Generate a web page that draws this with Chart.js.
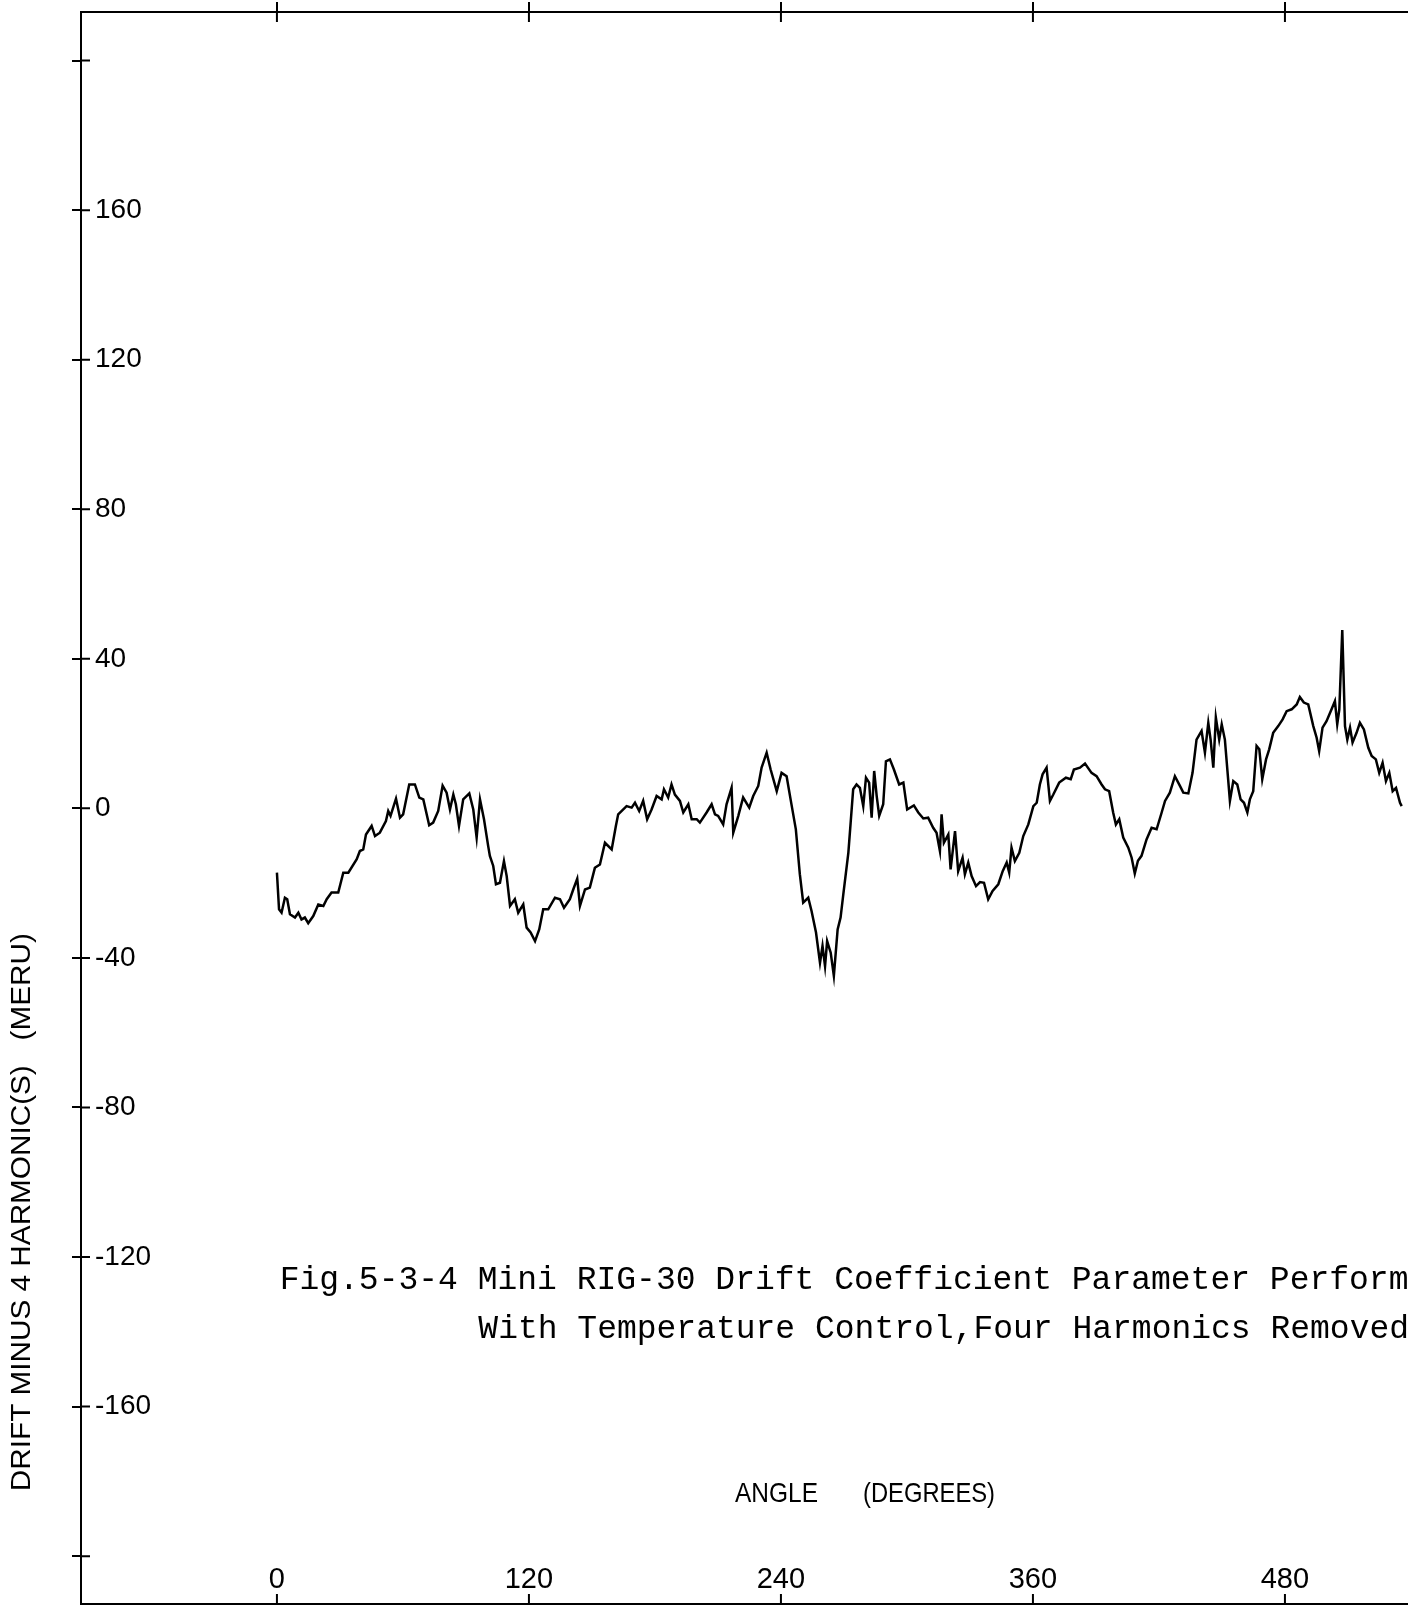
<!DOCTYPE html>
<html>
<head>
<meta charset="utf-8">
<script src="https://cdn.jsdelivr.net/npm/chart.js@4.4.1/dist/chart.umd.min.js"></script>
<style>
  html, body { margin: 0; padding: 0; background: #fff; }
  canvas { display: block; }
</style>
</head>
<body>
<canvas id="myChart" width="1408" height="1607"></canvas>
<script>
// drift minus 4 harmonics
const angles = [
  0, 1.0, 2.2, 3.8, 4.9, 6.2, 8.6, 10.2, 11.7, 13.3, 14.9, 17.3, 19.7, 22.1, 23.7, 26.0, 29.2,
  31.6, 34.0, 38.0, 39.5, 41.1, 42.4, 45.1, 46.7, 49.0, 51.9, 53.0, 54.1, 56.7, 58.6, 60.1,
  63.0, 65.7, 67.8, 69.7, 72.5, 74.4, 76.8, 78.9, 80.8, 82.4, 84.0, 85.2, 86.7, 88.7, 91.6,
  93.5, 95.1, 96.7, 98.6, 100.6, 101.4, 103.0, 104.3, 106.2, 108.1, 109.4, 111.0, 113.3,
  114.9, 117.3, 118.9, 120.8, 122.9, 124.9, 126.8, 129.2, 132.4, 134.8, 136.7, 139.5, 141.1,
  143.0, 144.3, 146.7, 149.0, 151.4, 153.8, 156.2, 159.4, 161.4, 162.5, 166.5, 168.9, 170.5,
  172.5, 174.4, 176.3, 178.4, 180.8, 183.2, 184.3, 186.3, 187.9, 189.5, 191.9, 193.5, 195.9,
  197.5, 199.9, 201.4, 204.6, 207.0, 208.6, 210.1, 212.5, 214.1, 216.5, 217.3, 219.7, 222.0,
  224.9, 226.8, 229.2, 230.8, 233.2, 235.1, 238.0, 240.3, 242.7, 244.6, 247.1, 249.0, 250.6,
  253.0, 254.6, 256.7, 258.6, 259.8, 261.0, 262.0, 263.7, 265.2, 267.0, 268.4, 269.7, 272.1,
  273.2, 274.4, 276.0, 277.6, 279.2, 280.5, 282.0, 283.2, 284.4, 285.6, 286.8, 288.7, 290.0,
  291.9, 293.8, 296.3, 298.3, 300.1, 303.3, 305.4, 307.8, 310.1, 312.5, 314.1, 315.7, 316.5,
  317.6, 319.7, 320.8, 322.9, 324.4, 326.5, 327.6, 329.2, 330.8, 332.9, 334.8, 336.7, 338.7,
  340.8, 343.5, 345.6, 347.5, 348.7, 349.8, 351.4, 353.5, 355.4, 357.8, 360.2, 361.8, 363.3,
  364.6, 366.5, 368.1, 369.7, 372.5, 375.7, 378.0, 379.5, 382.4, 384.8, 387.9, 390.3, 392.7,
  394.3, 396.3, 398.2, 399.5, 401.1, 403.0, 405.4, 407.0, 408.5, 410.0, 411.7, 414.1, 416.5,
  418.9, 421.3, 422.9, 425.2, 427.6, 430.0, 431.6, 434.0, 436.0, 437.9, 440.3, 441.9, 443.5,
  444.6, 445.9, 447.1, 448.7, 449.9, 451.4, 453.8, 455.4, 457.3, 458.9, 460.5, 462.1, 463.3,
  464.9, 466.5, 467.8, 469.2, 471.0, 472.5, 474.4, 476.8, 478.9, 480.8, 483.2, 485.6, 487.1,
  489.0, 491.1, 493.5, 495.1, 496.3, 497.9, 499.8, 502.2, 503.8, 504.9, 505.9, 507.3, 508.6,
  509.7, 511.0, 512.2, 514.1, 515.7, 517.6, 519.7, 521.3, 523.3, 524.9, 526.5, 528.1, 529.7,
  531.3, 532.9, 534.8, 535.6
]
const drift = [
  -17.2, -27, -27.9, -23.9, -24.3, -28.3, -29.2, -27.9, -29.7, -29.2, -30.7, -28.8, -25.7, -26.1, -24.3, -22.5, -22.5,
  -17.2, -17.2, -13.6, -11.4, -11, -7, -4.7, -7.4, -6.5, -3.4, -0.7, -2, 2.6, -2.5, -1.6,
  6.4, 6.4, 2.9, 2.4, -4.5, -3.8, -0.7, 6.1, 4.2, -0.3, 3.7, 1.1, -4.7, 2.4, 4,
  -0.3, -7.8, 2.4, -2.9, -10.1, -12.7, -15.4, -20.3, -19.9, -14.1, -18.1, -26.1, -24.3,
  -27.9, -25.7, -31.9, -33.2, -35.5, -32.4, -27, -27, -23.9, -24.3, -26.6, -24.3, -21.7,
  -18.8, -26.1, -21.7, -21.2, -15.9, -15, -9.2, -11, -4.7, -1.6, 0.6, 0.2, 1.5,
  -0.7, 2, -2.9, -0.3, 3.3, 2.4, 5.1, 2.9, 6.4, 3.7, 2, -1.1, 1.1,
  -2.9, -2.9, -3.8, -1.1, 1.1, -1.6, -2, -4.3, 1.1, 5.5, -6.5, -2, 2.9,
  0.2, 3.3, 6, 10.9, 14.9, 10.4, 4.6, 9.5, 8.6, 2.4, -5.6, -17.6, -25.2,
  -23.9, -27.5, -33.2, -41.3, -36.8, -42.2, -35.5, -38.6, -44.8, -32.4, -29.2, -23, -11.9,
  -3.8, 5.1, 6.4, 5.5, 0.6, 8.2, 6.9, -2.5, 10, 3.3, -2, 1.1, 12.6,
  13.1, 10.4, 6.4, 6.9, -0.3, 0.8, -1.1, -2.7, -2.5, -5.2, -6.5, -11.4, -1.6,
  -9.2, -7, -16.3, -6.1, -16.8, -13.2, -17.6, -14.5, -18.1, -20.8, -19.7, -19.9, -24.3,
  -22.1, -20.3, -16.8, -14.5, -17.2, -10.5, -14.1, -11.9, -7.4, -4.3, 0.6, 1.5, 6.4,
  9.1, 10.9, 2, 3.7, 6.9, 8.2, 7.8, 10.4, 10.9, 12, 9.5, 8.6, 6.4,
  5.1, 4.6, -1.1, -4.3, -2.9, -7.8, -10.5, -13.2, -17.4, -14, -12.7, -8.3, -5.2,
  -5.6, -1.1, 2, 4.2, 8.6, 6, 4.2, 4, 9.5, 18.4, 20.7, 14.9, 22.9,
  18.4, 10.9, 24.3, 18.4, 22.5, 18.4, 2, 7.3, 6.4, 2.4, 1.5, -1.1, 2.4,
  4.6, 16.7, 15.8, 7.8, 13.1, 15.8, 20.2, 22, 23.8, 26, 26.5, 27.8, 29.8,
  28.3, 27.8, 22, 18.9, 15.3, 21.6, 23.3, 26.5, 28.7, 22.5, 26.5, 47.7, 22,
  18.4, 21.6, 17.6, 20.2, 22.9, 21.1, 16.2, 14, 13.1, 9.5, 12.2, 7.3, 9.5,
  4.6, 5.5, 1.5, 0.6
]

const xTicks = [0, 120, 240, 360, 480]
const yTicks = [-200, -160, -120, -80, -40, 0, 40, 80, 120, 160, 200]
const yLabelled = [-160, -120, -80, -40, 0, 40, 80, 120, 160]

const xTitleWords = ['ANGLE', '(DEGREES)']
const yTitle = 'DRIFT MINUS 4 HARMONIC(S)   (MERU)'
const caption = [
  'Fig.5-3-4 Mini RIG-30 Drift Coefficient Parameter Perform',
  'With Temperature Control,Four Harmonics Removed'
]

const plotFont = 'Liberation Sans'

function noPad(s) {
  s.paddingTop = 0; s.paddingBottom = 0; s.paddingLeft = 0; s.paddingRight = 0
}

// squeezed plotter-style text, fitted to a width
function fitText(ctx, text, cx, cy, width, size, rot) {
  ctx.save()
  ctx.font = `${size}px "${plotFont}"`
  const w = ctx.measureText(text).width
  ctx.translate(cx, cy)
  ctx.rotate(rot)
  ctx.scale(width / w, 1)
  ctx.textAlign = 'center'
  ctx.textBaseline = 'middle'
  ctx.fillText(text, 0, 0)
  ctx.restore()
}

const plotterExtras = {
  id: 'plotterExtras',
  afterDraw(chart) {
    const {ctx, chartArea, scales} = chart
    const x = scales.x, y = scales.y
    ctx.save()
    ctx.strokeStyle = '#000'
    ctx.lineWidth = 2
    ctx.beginPath()
    // inner halves of the crossing tick marks
    yTicks.forEach(v => {
      const py = y.getPixelForValue(v)
      ctx.moveTo(chartArea.left, py); ctx.lineTo(chartArea.left + 9, py)
    })
    xTicks.forEach(v => {
      const px = x.getPixelForValue(v)
      ctx.moveTo(px, chartArea.top); ctx.lineTo(px, chartArea.top + 10)
      ctx.moveTo(px, chartArea.bottom); ctx.lineTo(px, chartArea.bottom - 10)
    })
    ctx.stroke()

    ctx.fillStyle = '#000'
    const ty = y.getPixelForValue(-183.4)
    fitText(ctx, xTitleWords[0], x.getPixelForValue(237.9), ty, 83, 28, 0)
    fitText(ctx, xTitleWords[1], x.getPixelForValue(310.5), ty, 132, 28, 0)
    fitText(ctx, yTitle, chartArea.left - 59, y.getPixelForValue(-108), 558, 28, -Math.PI / 2)

    ctx.font = '33px "Liberation Mono"'
    ctx.textAlign = 'left'
    ctx.textBaseline = 'middle'
    ctx.fillText(caption[0], x.getPixelForValue(1.3), y.getPixelForValue(-126.2))
    ctx.fillText(caption[1], x.getPixelForValue(95.9), y.getPixelForValue(-139.2))
    ctx.restore()
  }
}

const xMin = -93.3
const xMax = 538.6

new Chart(
  document.getElementById('myChart'),
  {
    type: 'line',
    data: {
      datasets: [
        {
          data: angles.map((a, i) => ({x: a, y: drift[i]})),
          borderColor: '#000',
          borderWidth: 2.5,
          pointRadius: 0,
          tension: 0,
          fill: false,
          xAxisID: 'x',
          yAxisID: 'y'
        }
      ]
    },
    options: {
      responsive: false,
      animation: false,
      devicePixelRatio: 1,
      layout: { padding: 0 },
      plugins: {
        legend: { display: false },
        tooltip: { enabled: false }
      },
      scales: {
        x: {
          type: 'linear',
          position: 'bottom',
          min: xMin,
          max: xMax,
          afterBuildTicks: s => { s.ticks = xTicks.map(v => ({value: v})) },
          afterFit: s => { s.height = 3; noPad(s) },
          grid: { drawOnChartArea: false, drawTicks: false },
          border: { color: '#000', width: 2 },
          ticks: {
            // mirrored: labels sit inside, just above the bottom axis
            mirror: true,
            padding: 7,
            color: '#000',
            maxRotation: 0,
            autoSkip: false,
            font: { family: plotFont, size: 29 },
            callback: v => String(v)
          }
        },
        xTop: {
          type: 'linear',
          axis: 'x',
          position: 'top',
          min: xMin,
          max: xMax,
          afterBuildTicks: s => { s.ticks = xTicks.map(v => ({value: v})) },
          afterFit: s => { s.height = 12; noPad(s) },
          grid: { drawOnChartArea: false, drawTicks: true, tickLength: 10, color: '#000', lineWidth: 2 },
          border: { color: '#000', width: 2 },
          ticks: { display: false }
        },
        y: {
          type: 'linear',
          position: 'left',
          min: -212.8,
          max: 213,
          afterBuildTicks: s => { s.ticks = yTicks.map(v => ({value: v})) },
          afterFit: s => { s.width = 81; noPad(s) },
          grid: { drawOnChartArea: false, drawTicks: true, tickLength: 9, color: '#000', lineWidth: 2 },
          border: { color: '#000', width: 2 },
          ticks: {
            mirror: true,
            padding: 14,
            color: '#000',
            font: { family: plotFont, size: 28 },
            callback: v => yLabelled.includes(v) ? String(v) : ''
          }
        }
      }
    },
    plugins: [plotterExtras]
  }
)
</script>
</body>
</html>
